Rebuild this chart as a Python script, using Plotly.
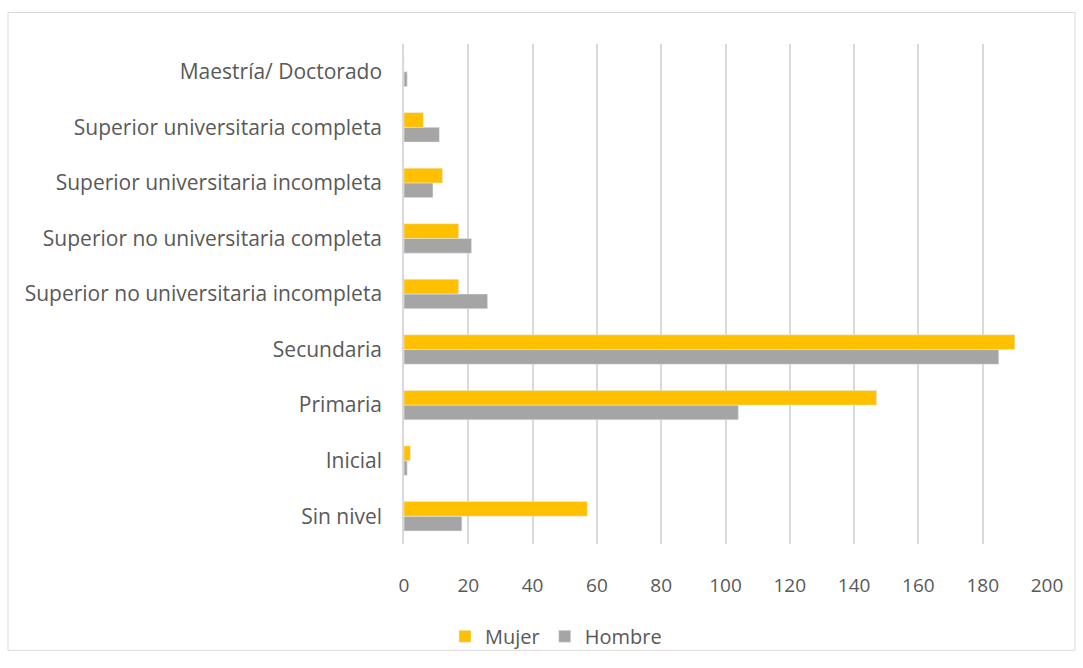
import plotly.graph_objects as go

categories = ["Sin nivel", "Inicial", "Primaria", "Secundaria",
              "Superior no universitaria incompleta", "Superior no universitaria completa",
              "Superior universitaria incompleta", "Superior universitaria completa",
              "Maestría/ Doctorado"]
mujer = [57, 2, 147, 190, 17, 17, 12, 6, 0]
hombre = [18, 1, 104, 185, 26, 21, 9, 11, 1]
x_ticks = [0, 20, 40, 60, 80, 100, 120, 140, 160, 180, 200]

fig = go.Figure()
fig.add_trace(go.Bar(y=categories, x=hombre, name="Hombre", orientation="h",
                     marker=dict(color="#a5a5a5")))
fig.add_trace(go.Bar(y=categories, x=mujer, name="Mujer", orientation="h",
                     marker=dict(color="#ffc000")))

font_family = "Open Sans, Liberation Sans, sans-serif"
L, R, T, B = 404, 1047, 44, 552
pw, ph = R - L, B - T
fig.update_layout(
    width=1083, height=668,
    paper_bgcolor="white", plot_bgcolor="white",
    barmode="group", bargap=0.47, bargroupgap=0,
    margin=dict(l=L, r=1083 - R, t=T, b=668 - B),
    font=dict(family=font_family, size=20, color="#595959"),
    legend=dict(orientation="h", x=(556 - L) / pw, xanchor="center",
                y=-(626 - B) / ph, yanchor="top", bgcolor="rgba(0,0,0,0)",
                traceorder="reversed", font=dict(size=20, color="#595959")),
    xaxis=dict(range=[0, 200], tickvals=x_ticks, showgrid=True, gridcolor="#d9d9d9",
               gridwidth=1.5, zeroline=False, showline=False, ticks="",
               ticklabelstandoff=28,
               tickfont=dict(size=19, color="#595959")),
    yaxis=dict(showgrid=False, showline=True, linecolor="#d9d9d9", linewidth=1.5,
               ticks="", ticklabelstandoff=16,
               tickfont=dict(size=21, color="#595959")),
    shapes=[dict(type="rect", xref="paper", yref="paper",
                 x0=(8 - L) / pw, x1=(1075 - L) / pw, y0=-(660 - B) / ph, y1=(B - 12) / ph,
                 line=dict(color="#d9d9d9", width=1), fillcolor="rgba(0,0,0,0)", layer="below")],
)
fig.write_html("out.html", config={"displayModeBar": False},
               post_script="document.body.style.margin='0';")
